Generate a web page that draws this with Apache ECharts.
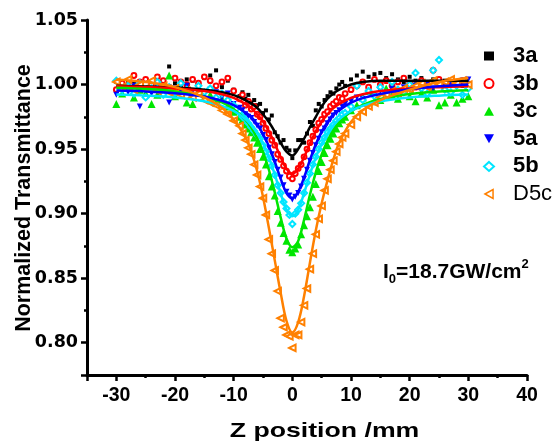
<!DOCTYPE html>
<html><head><meta charset="utf-8">
<script src="https://cdn.jsdelivr.net/npm/echarts@6/dist/echarts.min.js"></script>
<style>html,body{margin:0;padding:0;background:#fff}#c{width:555px;height:441px}</style>
</head><body><div id="c"></div>
<script>
// Z positions of measured points (mm)
const zPos = [-30,-29,-28,-27,-26,-25,-24,-23,-22,-21,-20,-19,-18,-17,-16,-15,-14,-13,-12,-11,-10,
  -9,-8.5,-8,-7.5,-7,-6.5,-6,-5.5,-5,-4.5,-4,-3.5,-3,-2.5,-2,-1.5,-1,-0.5,0,0.5,1,1.5,2,2.5,3,3.5,4,4.5,5,5.5,6,6.5,7,7.5,8,8.5,9,
  10,11,12,13,14,15,16,17,18,19,20,21,22,23,24,25,26,27,28,29,30];
const pts3a = [1.002,0.999,1.003,1.001,0.998,1.004,1.000,1.006,1.002,1.014,1.001,0.999,1.004,1.003,1.000,1.005,1.007,1.011,0.998,1.003,0.996,
  0.991,0.994,0.989,0.992,0.986,0.988,0.984,0.985,0.978,0.980,0.973,0.976,0.963,0.960,0.955,0.957,0.951,0.949,0.943,0.949,0.957,0.957,0.955,0.962,0.971,0.968,0.980,0.985,0.983,0.988,0.991,0.994,0.993,0.997,1.000,1.002,0.999,
  1.004,1.007,1.010,1.006,1.008,1.009,1.005,1.008,1.004,1.002,1.006,1.003,1.005,1.001,1.004,1.002,1.003,1.000,1.002,0.999,1.001];
const pts3b = [0.996,1.001,0.999,1.007,1.002,1.004,1.000,1.006,1.003,0.998,1.005,1.002,1.000,1.004,1.001,1.006,1.003,0.999,1.002,1.005,0.995,
  0.989,0.992,0.984,0.987,0.981,0.983,0.977,0.975,0.970,0.966,0.962,0.957,0.953,0.946,0.942,0.937,0.933,0.929,0.927,0.931,0.935,0.938,0.944,0.950,0.955,0.960,0.965,0.970,0.973,0.977,0.979,0.983,0.985,0.987,0.990,0.989,0.993,
  0.996,0.999,1.002,0.998,1.004,1.000,1.003,0.999,1.002,1.005,1.001,0.998,1.003,1.000,1.011,1.004,0.999,1.002,1.000,1.003,0.999];
const pts3c = [0.985,0.993,0.998,0.990,0.996,0.993,0.985,0.992,0.997,1.007,0.991,0.994,0.986,0.985,0.995,0.990,0.992,0.986,0.989,0.983,0.979,
  0.975,0.973,0.969,0.966,0.963,0.959,0.955,0.950,0.944,0.938,0.929,0.921,0.914,0.902,0.893,0.885,0.879,0.872,0.870,0.873,0.876,0.884,0.891,0.898,0.905,0.913,0.923,0.933,0.940,0.947,0.953,0.958,0.962,0.966,0.970,0.973,0.975,
  0.980,0.984,0.990,0.995,0.987,0.988,0.997,0.992,0.989,0.995,0.991,0.987,0.993,0.990,0.996,0.984,0.986,0.992,0.986,0.989,0.991];
const pts5a = [0.992,0.997,0.994,0.999,0.983,0.996,0.993,0.998,0.995,0.986,0.997,0.994,0.999,0.995,0.997,0.992,0.996,0.994,0.990,0.993,0.985,
  0.982,0.980,0.977,0.975,0.974,0.971,0.968,0.966,0.961,0.957,0.951,0.946,0.940,0.934,0.928,0.922,0.917,0.914,0.911,0.913,0.916,0.921,0.927,0.934,0.941,0.947,0.953,0.958,0.963,0.966,0.970,0.973,0.976,0.978,0.980,0.983,0.985,
  0.987,0.990,0.989,0.994,0.991,0.995,0.993,0.997,0.994,0.998,0.996,0.999,0.995,1.001,0.997,1.000,0.998,1.002,0.999,1.003,1.004];
const pts5b = [1.003,0.996,0.999,0.993,1.001,0.990,0.997,1.002,0.992,0.998,0.994,1.001,0.996,0.991,0.999,0.994,0.997,0.990,0.993,0.988,0.984,
  0.979,0.975,0.973,0.970,0.967,0.964,0.961,0.958,0.953,0.948,0.943,0.937,0.930,0.922,0.916,0.909,0.904,0.899,0.892,0.900,0.903,0.908,0.916,0.924,0.931,0.938,0.944,0.950,0.955,0.959,0.963,0.966,0.969,0.972,0.974,0.977,0.978,
  0.983,0.999,0.988,0.995,0.991,0.998,0.993,1.002,0.996,0.994,1.000,1.009,0.997,0.993,1.011,1.019,0.996,0.994,0.999,0.992,0.997];
const ptsD5c = [1.002,0.998,1.004,0.996,1.000,0.997,1.003,0.995,0.999,0.994,0.997,0.992,0.995,0.990,0.993,0.988,0.986,0.984,0.980,0.977,0.972,
  0.968,0.962,0.957,0.951,0.946,0.938,0.930,0.921,0.912,0.899,0.880,0.869,0.856,0.840,0.819,0.812,0.806,0.805,0.796,0.806,0.806,0.816,0.829,0.842,0.857,0.869,0.884,0.896,0.906,0.918,0.927,0.934,0.941,0.948,0.954,0.959,0.962,
  0.969,0.975,0.979,0.983,0.986,0.990,0.992,0.995,0.993,0.997,0.996,0.999,1.001,0.998,1.003,1.000,1.002,1.004,1.001,1.003,1.000];

// fitted curves
const zFit = [-30,-25,-20,-15,-12,-10,-8,-7,-6,-5,-4,-3,-2,-1,0,1,2,3,4,5,6,7,8,10,12,15,20,25,30];
const fit3a = [0.999,0.9985,0.9977,0.996,0.994,0.9918,0.988,0.9854,0.982,0.977,0.971,0.9636,0.955,0.948,0.945,0.950,0.958,0.967,0.975,0.983,0.989,0.993,0.996,1.000,1.002,1.003,1.003,1.003,1.003];
const fit3b = [0.9987,0.998,0.997,0.995,0.9925,0.9897,0.985,0.9817,0.977,0.9714,0.9638,0.9543,0.9438,0.9347,0.931,0.9347,0.9438,0.9543,0.9638,0.9714,0.977,0.9817,0.985,0.9897,0.9925,0.995,0.997,0.998,0.9987];
const fit3c = [0.9976,0.9966,0.9947,0.9908,0.9863,0.9811,0.9728,0.9666,0.9585,0.9478,0.934,0.9166,0.8973,0.8808,0.874,0.8788,0.8953,0.9146,0.932,0.9458,0.9565,0.9646,0.9708,0.9791,0.9843,0.9888,0.9927,0.9946,0.9956];
const fit5a = [0.9953,0.9947,0.9933,0.9907,0.9875,0.984,0.9783,0.975,0.9692,0.9617,0.9523,0.9404,0.9271,0.916,0.912,0.917,0.928,0.9416,0.9538,0.9635,0.971,0.977,0.9802,0.986,0.9895,0.9927,0.9963,0.9986,1.000];
const fit5b = [0.9922,0.9914,0.990,0.987,0.9835,0.9796,0.9733,0.9686,0.9624,0.9543,0.9437,0.9305,0.9158,0.9032,0.898,0.9032,0.9158,0.9305,0.9437,0.9543,0.9624,0.9686,0.9733,0.9796,0.9835,0.987,0.990,0.9914,0.9922];
const fitD5c = [1.004,1.002,0.998,0.990,0.982,0.973,0.959,0.948,0.933,0.913,0.889,0.864,0.839,0.817,0.808,0.816,0.836,0.862,0.887,0.908,0.926,0.942,0.955,0.971,0.980,0.988,0.996,1.002,1.005];

const seriesNames = ['3a','3b','3c','5a','5b','D5c'];
const xTickLabels = ['-30','-20','-10','0','10','20','30','40'];
const yTickLabels = ['0.80','0.85','0.90','0.95','1.00','1.05'];

const points = [pts3a, pts3b, pts3c, pts5a, pts5b, ptsD5c];
const fits = [fit3a, fit3b, fit3c, fit5a, fit5b, fitD5c];
const colors = ['#000000','#ff0000','#00e600','#0000ff','#00e5ff','#ff8000'];
const symbols = ['rect','emptyCircle','triangle','triangle','emptyDiamond','emptyTriangle'];
const symSizes = [4,4.8,8,6,6,6.5];
const symRot = [0,0,0,180,0,90];
const legendIcons = ['rect','emptyCircle','triangle','path://M0,0L10,0L5,9Z','emptyDiamond','path://M0,5L9,0L9,10Z'];

const scatterSeries = seriesNames.map((n,i)=>({
  name:n, type:'scatter', z:2,
  data: zPos.map((z,k)=>[z, points[i][k]]),
  symbol: symbols[i], symbolSize: symSizes[i], symbolRotate: symRot[i],
  itemStyle:{color: colors[i], borderWidth: symbols[i].startsWith('empty') ? 1.3 : 0, opacity:1},
  emphasis:{disabled:true}, silent:true
}));
const fitSeries = seriesNames.map((n,i)=>({
  name:n+' fit', type:'line', z:3, smooth:0.35, showSymbol:false, symbol:'none',
  data: zFit.map((z,k)=>[z, fits[i][k]]),
  lineStyle:{color: colors[i], width:2.5}, itemStyle:{color:colors[i]},
  emphasis:{disabled:true}, silent:true
}));

const axisCol = '#000';
const option = {
  animation:false,
  backgroundColor:'#fff',
  grid:{left:87, right:28, top:20, bottom:66, containLabel:false},
  xAxis:[
    {type:'value', min:-35, max:40, interval:5, position:'bottom',
     axisLine:{show:true, onZero:false, lineStyle:{color:axisCol, width:3}},
     axisTick:{show:true, inside:false, length:3, lineStyle:{color:axisCol, width:2.5}},
     axisLabel:{show:false}, splitLine:{show:false}},
    {type:'value', min:-40, max:35, interval:10, inverse:true, position:'bottom',
     axisLine:{show:false, onZero:false},
     axisTick:{show:true, inside:false, length:6, lineStyle:{color:axisCol, width:2.5}},
     axisLabel:{show:true, margin:11, color:'#000', fontFamily:'Liberation Sans', fontWeight:'bold', fontSize:19.5,
       formatter:(v)=>{ const r = Math.round(-v); const s = String(r); return xTickLabels.includes(s) && Math.abs(-v - r) < 1e-6 ? s : ''; }},
     splitLine:{show:false}}
  ],
  yAxis:[
    {type:'value', min:0.775, max:1.05, interval:0.025, position:'left',
     axisLine:{show:true, onZero:false, lineStyle:{color:axisCol, width:3}},
     axisTick:{show:true, inside:false, length:3, lineStyle:{color:axisCol, width:2.5}},
     axisLabel:{show:false}, splitLine:{show:false}},
    {type:'value', min:-1.05, max:-0.775, interval:0.05, inverse:true, position:'left', offset:0,
     axisLine:{show:false, onZero:false},
     axisTick:{show:true, inside:false, length:6, lineStyle:{color:axisCol, width:2.5}},
     axisLabel:{show:true, margin:9, color:'#000', fontFamily:'DejaVu Sans', fontWeight:'bold', fontSize:17.5,
       formatter:(v)=>{ const s = Math.abs(v).toFixed(2); return (yTickLabels.includes(s) && Math.abs(v*20 - Math.round(v*20)) < 1e-6) ? s : ''; }},
     splitLine:{show:false}}
  ],
  legend:{
    orient:'vertical', left:478, top:40, itemWidth:10, itemHeight:9, itemGap:5.6,
    selectedMode:false,
    formatter:(n)=> n==='D5c' ? '{s|}{r|'+n+'}' : '{s|}{b|'+n+'}',
    textStyle:{fontFamily:'Liberation Sans', fontSize:22, color:'#000', lineHeight:22,
      rich:{
        s:{width:14, lineHeight:22},
        b:{fontFamily:'Liberation Sans', fontWeight:'bold', fontSize:22, color:'#000', lineHeight:22},
        r:{fontFamily:'Liberation Sans', fontWeight:'normal', fontSize:22, color:'#000', lineHeight:22}
      }},
    data: seriesNames.map((n,i)=>{
      const d = {name:n, icon: legendIcons[i]};
      if (n==='D5c') d.itemStyle = {color:'#ffffff', borderColor:colors[i], borderWidth:1.5};
      return d;
    })
  },
  graphic:[
    {type:'text', x:24, y:198, rotation:Math.PI/2, silent:true,
     style:{text:'Normalized Transmittance', fontFamily:'Liberation Sans', fontWeight:'bold', fontSize:21.5, fill:'#000', align:'center', verticalAlign:'middle'}},
    {type:'text', x:324.5, y:431, scaleX:1.27, silent:true,
     style:{text:'Z position /mm', fontFamily:'Liberation Sans', fontWeight:'bold', fontSize:21, fill:'#000', align:'center', verticalAlign:'middle'}},
    {type:'text', x:383, y:258, silent:true,
     style:{text:'{a|I}{b|0}{a|=18.7GW/cm}{c|2}', verticalAlign:'top', align:'left',
       rich:{
         a:{fontSize:21, fontWeight:'bold', fontFamily:'Liberation Sans', fill:'#000', color:'#000', lineHeight:28},
         b:{fontSize:13, fontWeight:'bold', fontFamily:'Liberation Sans', fill:'#000', color:'#000', lineHeight:14, verticalAlign:'bottom'},
         c:{fontSize:13, fontWeight:'bold', fontFamily:'Liberation Sans', fill:'#000', color:'#000', lineHeight:14, verticalAlign:'top'}
       }}}
  ],
  series:[...scatterSeries, ...fitSeries]
};
const chart = echarts.init(document.getElementById('c'), null, {renderer:'canvas'});
chart.setOption(option);
</script>
</body></html>
